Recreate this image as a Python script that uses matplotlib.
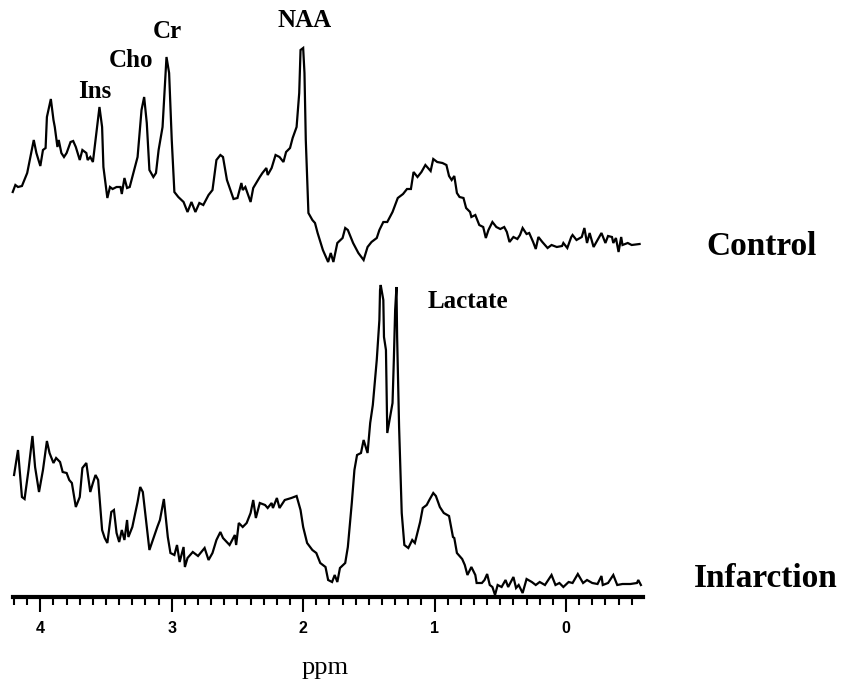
import matplotlib
matplotlib.use("Agg")
import matplotlib.pyplot as plt
import numpy as np
from matplotlib.ticker import FixedLocator, MultipleLocator

# ---------------- data ----------------
control_ppm = [
    4.21, 4.19, 4.17, 4.14, 4.10, 4.07, 4.05, 4.03, 4.00, 3.98,
    3.96, 3.95, 3.92, 3.90, 3.89, 3.87, 3.86, 3.84, 3.82, 3.80,
    3.77, 3.75, 3.73, 3.70, 3.68, 3.65, 3.64, 3.62, 3.60, 3.58,
    3.55, 3.53, 3.52, 3.49, 3.47, 3.45, 3.42, 3.39, 3.38, 3.36,
    3.34, 3.32, 3.30, 3.26, 3.23, 3.21, 3.19, 3.17, 3.14, 3.12,
    3.10, 3.07, 3.04, 3.02, 3.00, 2.98, 2.95, 2.91, 2.88, 2.85,
    2.82, 2.79, 2.76, 2.72, 2.69, 2.66, 2.63, 2.61, 2.58, 2.53,
    2.50, 2.47, 2.46, 2.44, 2.40, 2.38, 2.33, 2.31, 2.28, 2.27,
    2.24, 2.21, 2.18, 2.15, 2.13, 2.10, 2.08, 2.05, 2.03, 2.02,
    2.00, 1.99, 1.98, 1.96, 1.93, 1.91, 1.89, 1.85, 1.81, 1.79,
    1.77, 1.74, 1.70, 1.68, 1.66, 1.62, 1.58, 1.54, 1.51, 1.48,
    1.44, 1.42, 1.39, 1.36, 1.34, 1.32, 1.28, 1.24, 1.21, 1.18,
    1.16, 1.13, 1.10, 1.07, 1.03, 1.01, 0.98, 0.94, 0.91, 0.89,
    0.87, 0.85, 0.83, 0.81, 0.78, 0.76, 0.73, 0.72, 0.69, 0.66,
    0.63, 0.61, 0.59, 0.56, 0.53, 0.50, 0.47, 0.45, 0.43, 0.40,
    0.37, 0.35, 0.33, 0.30, 0.28, 0.25, 0.23, 0.21, 0.18, 0.14,
    0.11, 0.07, 0.03, 0.02, -0.01, -0.04, -0.05, -0.08, -0.12, -0.14,
    -0.16, -0.18, -0.21, -0.24, -0.27, -0.30, -0.32, -0.35, -0.36, -0.38,
    -0.40, -0.42, -0.43, -0.47, -0.50, -0.56,
]
control_int = [
    58, 65, 63, 64, 77, 97, 110, 97, 84, 100,
    102, 133, 151, 130, 123, 103, 110, 97, 93, 97,
    108, 109, 103, 90, 100, 97, 90, 93, 88, 110,
    143, 123, 83, 52, 63, 61, 63, 63, 56, 72,
    62, 63, 73, 93, 140, 153, 127, 80, 73, 77,
    100, 123, 193, 177, 110, 58, 53, 48, 38, 48,
    38, 47, 45, 55, 60, 90, 95, 93, 70, 51,
    52, 67, 60, 63, 48, 62, 73, 77, 82, 75,
    82, 95, 93, 88, 98, 102, 112, 123, 157, 200,
    202, 177, 110, 37, 30, 27, 17, 0, -12, -3,
    -12, 7, 12, 22, 20, 7, -3, -10, 3, 8,
    12, 20, 28, 28, 33, 38, 52, 56, 61, 61,
    78, 73, 78, 85, 79, 91, 88, 87, 85, 74,
    70, 74, 57, 53, 52, 42, 38, 33, 35, 25,
    23, 12, 20, 28, 23, 21, 23, 18, 8, 13,
    11, 15, 22, 16, 17, 8, 1, 13, 8, 2,
    5, 3, 4, 7, 2, 13, 15, 10, 13, 22,
    7, 17, 3, 10, 17, 7, 14, 13, 7, 12,
    -2, 13, 5, 7, 5, 6,
]

infarct_ppm = [
    4.20, 4.17, 4.14, 4.12, 4.09, 4.06, 4.04, 4.01, 3.98, 3.95,
    3.93, 3.90, 3.88, 3.85, 3.83, 3.80, 3.78, 3.76, 3.73, 3.70,
    3.68, 3.65, 3.62, 3.60, 3.58, 3.56, 3.53, 3.51, 3.49, 3.46,
    3.44, 3.42, 3.40, 3.38, 3.36, 3.34, 3.33, 3.30, 3.26, 3.24,
    3.22, 3.17, 3.11, 3.09, 3.06, 3.03, 3.01, 2.98, 2.96, 2.94,
    2.91, 2.90, 2.88, 2.84, 2.80, 2.75, 2.72, 2.69, 2.66, 2.63,
    2.61, 2.56, 2.52, 2.51, 2.49, 2.46, 2.43, 2.40, 2.38, 2.36,
    2.33, 2.29, 2.27, 2.24, 2.23, 2.20, 2.18, 2.14, 2.09, 2.05,
    2.02, 2.00, 1.97, 1.93, 1.90, 1.87, 1.83, 1.81, 1.78, 1.76,
    1.74, 1.72, 1.68, 1.66, 1.63, 1.61, 1.59, 1.56, 1.54, 1.51,
    1.49, 1.47, 1.44, 1.42, 1.415, 1.41, 1.39, 1.385, 1.37, 1.36,
    1.32, 1.31, 1.30, 1.29, 1.285, 1.27, 1.25, 1.23, 1.20, 1.17,
    1.15, 1.11, 1.09, 1.06, 1.04, 1.01, 0.99, 0.96, 0.93, 0.89,
    0.86, 0.85, 0.83, 0.79, 0.77, 0.75, 0.72, 0.69, 0.68, 0.64,
    0.62, 0.60, 0.58, 0.56, 0.54, 0.52, 0.49, 0.46, 0.44, 0.40,
    0.38, 0.36, 0.33, 0.30, 0.26, 0.23, 0.20, 0.16, 0.11, 0.08,
    0.05, 0.02, -0.02, -0.05, -0.09, -0.13, -0.16, -0.20, -0.24, -0.27,
    -0.28, -0.32, -0.36, -0.39, -0.43, -0.49, -0.54, -0.55, -0.57,
]
infarct_int = [
    115, 140, 93, 91, 120, 154, 123, 98, 120, 149,
    137, 127, 132, 128, 118, 117, 110, 107, 83, 93,
    122, 127, 98, 107, 115, 110, 60, 52, 47, 78,
    80, 57, 48, 60, 50, 70, 53, 63, 88, 103,
    98, 40, 63, 70, 91, 53, 37, 35, 45, 28,
    43, 23, 32, 38, 34, 42, 30, 37, 50, 58,
    52, 45, 55, 45, 67, 63, 67, 77, 90, 72,
    87, 85, 82, 87, 82, 92, 82, 90, 92, 94,
    80, 63, 47, 40, 37, 27, 23, 10, 8, 15,
    8, 22, 27, 43, 87, 120, 135, 137, 150, 137,
    167, 185, 230, 270, 300, 305, 290, 253, 240, 157,
    187, 230, 280, 303, 253, 163, 77, 45, 42, 50,
    47, 68, 82, 85, 90, 97, 94, 83, 77, 74,
    53, 52, 37, 31, 25, 15, 23, 15, 7, 7,
    10, 16, 5, 3, -5, 5, 3, 10, 3, 13,
    2, 5, -3, 11, 8, 5, 8, 5, 15, 5,
    7, 3, 8, 7, 16, 7, 10, 7, 6, 14,
    5, 7, 15, 5, 6, 6, 7, 10, 5,
]

major_ticks = [4, 3, 2, 1, 0]
tick_labels = ["4", "3", "2", "1", "0"]
peak_labels = ["Ins", "Cho", "Cr", "NAA"]
trace_labels = ["Control", "Infarction"]
lactate_label = "Lactate"
x_label = "ppm"

assert len(control_ppm) == len(control_int)
assert len(infarct_ppm) == len(infarct_int)

# ---------------- figure ----------------
W, H = 845, 681
CONTROL_OFFSET = 340
fig = plt.figure(figsize=(W / 100, H / 100), dpi=100)
fig.patch.set_facecolor("white")
ax = fig.add_axes([13 / W, 1 - 597 / H, 630 / W, 597 / H])

ax.plot(control_ppm, np.array(control_int) + CONTROL_OFFSET, color="black",
        lw=1.6, clip_on=False, solid_joinstyle="miter")
ax.plot(infarct_ppm, infarct_int, color="black", lw=1.6, clip_on=False,
        solid_joinstyle="miter")

ax.set_xlim(4.208, -0.586)
ax.set_ylim(-7, 590)
for s in ["top", "left", "right"]:
    ax.spines[s].set_visible(False)
ax.spines["bottom"].set_linewidth(3.0)
ax.set_yticks([])
ax.set_facecolor("none")

ax.xaxis.set_major_locator(FixedLocator(major_ticks))
ax.set_xticklabels(tick_labels)
ax.xaxis.set_minor_locator(MultipleLocator(0.1))
ax.tick_params(axis="x", which="major", direction="out", length=11, width=1.5,
               pad=6, labelsize=11.5)
ax.tick_params(axis="x", which="minor", direction="out", length=5.5, width=1.5)
for lab in ax.get_xticklabels():
    lab.set_fontweight("bold")
    lab.set_family("Liberation Sans")

serif = "Liberation Serif"

def ftext(x, y, s, size, weight="bold", ha="center"):
    fig.text(x / W, 1 - y / H, s, fontsize=size, fontweight=weight,
             family=serif, ha=ha, va="baseline")

# peak labels (pixel positions of baselines)
ftext(95, 98, peak_labels[0], 18)
ftext(131, 67, peak_labels[1], 18)
ftext(167, 38, peak_labels[2], 18)
ftext(305, 27, peak_labels[3], 18)
ftext(468, 308, lactate_label, 18)
ftext(762, 255, trace_labels[0], 24)
ftext(766, 587, trace_labels[1], 24)
ftext(325, 674, x_label, 19, weight="normal")

fig.savefig("out.png", dpi=100, facecolor="white")
